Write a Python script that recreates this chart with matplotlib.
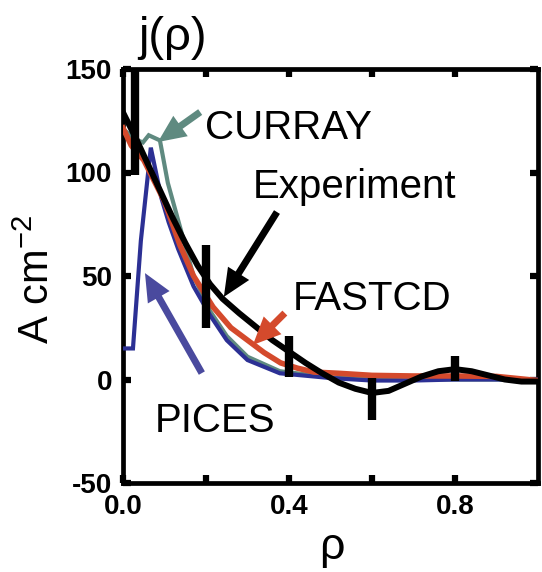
import matplotlib
matplotlib.use("Agg")
import matplotlib.pyplot as plt

plt.rcParams['font.family'] = ['Liberation Sans', 'DejaVu Sans']
plt.rcParams['axes.unicode_minus'] = False

# ---- data ----
rho_exp = [0.00, 0.03, 0.06, 0.09, 0.12, 0.15, 0.18, 0.21, 0.24, 0.28, 0.32,
           0.36, 0.40, 0.44, 0.48, 0.52, 0.56, 0.60, 0.64, 0.68, 0.72, 0.76,
           0.80, 0.84, 0.88, 0.92, 0.96, 1.00]
j_exp = [129, 117, 104, 91, 78, 66, 55, 46, 39, 32, 25.5,
         19, 13.5, 8, 3, -1.5, -4.5, -6.5, -5.5, -2, 1.5, 4,
         5, 4, 2, 0, -1, -1]

err_rho = [0.03, 0.2, 0.4, 0.6, 0.8]
err_j = [125, 45, 11, -9.5, 5.5]
err_size = [26, 20, 10, 10, 6]

rho_fast = [0.00, 0.02, 0.05, 0.10, 0.137, 0.17, 0.217, 0.26, 0.30, 0.34, 0.38,
            0.42, 0.46, 0.52, 0.60, 0.70, 0.80, 0.90, 0.95, 1.00]
j_fast = [121.5, 113, 106, 86, 65, 50, 35, 25, 19, 13, 8,
          5.5, 3.6, 3, 2, 1.7, 1.7, 1.5, 0.5, -0.5]

rho_pices = [0.00, 0.024, 0.043, 0.067, 0.092, 0.11, 0.133, 0.17, 0.21, 0.25,
             0.30, 0.378, 0.50, 0.60, 0.70, 0.80, 1.00]
j_pices = [15, 15, 67, 112, 88, 76, 63, 45, 31, 19,
           9.4, 3, 0.7, -0.5, -0.5, 0, 0]

rho_curr = [0.00, 0.03, 0.048, 0.062, 0.089, 0.108, 0.128, 0.17, 0.21, 0.25,
            0.30, 0.378, 0.50, 0.60, 0.80, 1.00]
j_curr = [121, 116, 114.5, 118, 115.5, 95, 80.5, 50, 33, 21,
          11, 4, 1, 0.5, 0, 0]

xticks = [0.0, 0.2, 0.4, 0.6, 0.8]
xticklabels = ['0.0', '', '0.4', '', '0.8']
yticks = [-50, 0, 50, 100, 150]

C_CURR = '#5f8a80'
C_PICES = '#2c3094'
C_PICES_ARROW = '#4a4a9e'
C_FAST = '#d44a2c'

fig = plt.figure(figsize=(5.42, 5.72), dpi=100)
ax = fig.add_axes([123/542, 1-483/572, 415/542, 414/572])

ax.plot(rho_curr, j_curr, color=C_CURR, lw=3.0, solid_joinstyle='miter', zorder=2)
ax.plot(rho_pices, j_pices, color=C_PICES, lw=3.0, solid_joinstyle='miter', zorder=3)
ax.plot(rho_fast, j_fast, color=C_FAST, lw=4.0, zorder=4)
ax.plot(rho_exp, j_exp, color='black', lw=4.3, zorder=5)
ax.errorbar(err_rho, err_j, yerr=err_size, fmt='none', ecolor='black',
            elinewidth=6, capsize=0, zorder=6)

ax.set_xlim(0, 1.0)
ax.set_ylim(-50, 150)
ax.set_xticks(xticks)
ax.set_xticklabels(xticklabels)
ax.set_yticks(yticks)
for lab in ax.get_xticklabels() + ax.get_yticklabels():
    lab.set_fontweight('bold')
    lab.set_fontsize(20)
ax.tick_params(direction='in', length=6, width=4.5, top=True, right=True, pad=8)
for s in ax.spines.values():
    s.set_linewidth(3.4)

arrow_kw = dict(arrowstyle='simple,head_length=1.0,head_width=0.9,tail_width=0.25',
                mutation_scale=20, shrinkA=0, shrinkB=0, lw=0)

ax.annotate('', xy=(0.084, 114.7), xytext=(0.186, 129.2),
            arrowprops=dict(color=C_CURR, **arrow_kw), zorder=7)
ax.annotate('', xy=(0.243, 39.9), xytext=(0.371, 80.9),
            arrowprops=dict(color='black', **arrow_kw), zorder=7)
ax.annotate('', xy=(0.313, 16.7), xytext=(0.390, 32.1),
            arrowprops=dict(color=C_FAST, **arrow_kw), zorder=7)
ax.annotate('', xy=(0.053, 51.4), xytext=(0.190, 3.1),
            arrowprops=dict(color=C_PICES_ARROW, **arrow_kw), zorder=7)

tfs = 29
ax.text(0.198, 116.1, 'CURRAY', fontsize=tfs, va='baseline', ha='left')
ax.text(0.313, 87.7, 'Experiment', fontsize=tfs, va='baseline', ha='left')
ax.text(0.410, 33.6, 'FASTCD', fontsize=tfs, va='baseline', ha='left')
ax.text(0.077, -25.4, 'PICES', fontsize=tfs, va='baseline', ha='left')

fig.text(138/542, 1-38/572, 'j(ρ)', fontsize=34, ha='left', va='center')
fig.text(332/542, 1-559/572, 'ρ', fontsize=32, ha='center', va='baseline')
fig.text(38/542, 1-280/572, 'A cm$^{\\mathregular{-2}}$', fontsize=30, rotation=90,
         ha='center', va='center')

fig.savefig('out.png', dpi=100)
